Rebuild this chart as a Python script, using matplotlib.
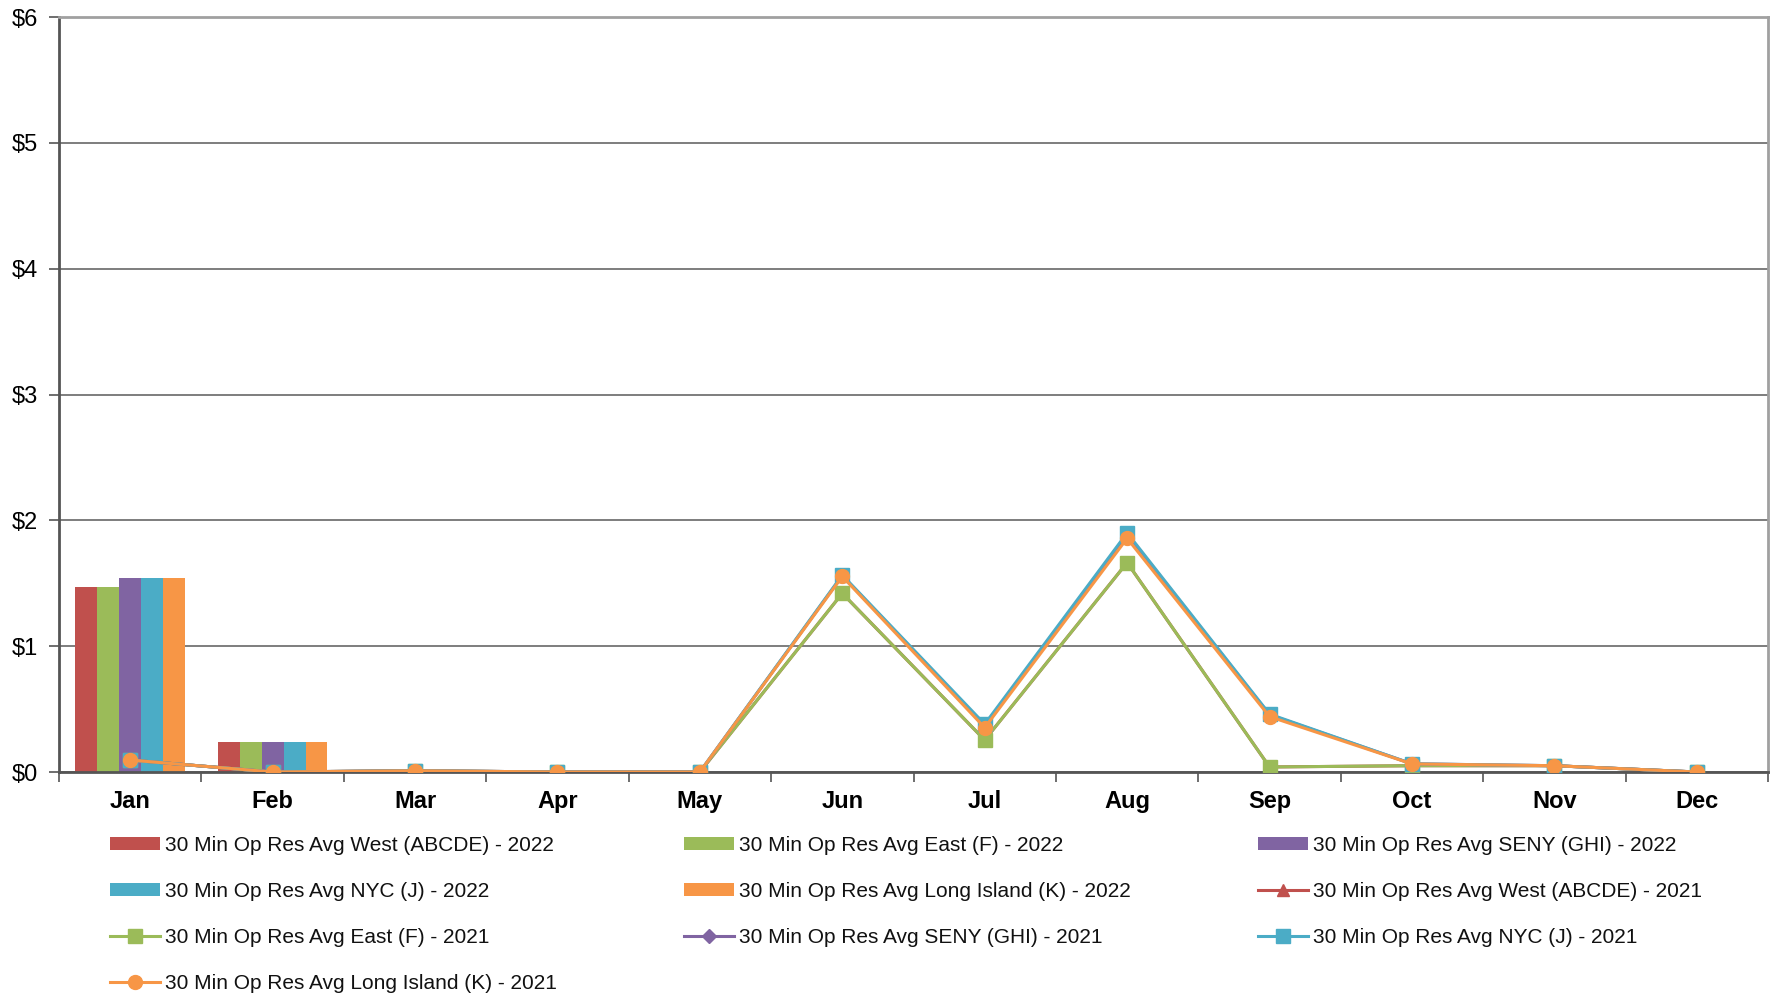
import matplotlib
matplotlib.use("Agg")
import matplotlib.pyplot as plt
import numpy as np

plt.rcParams['font.family'] = ['Liberation Sans', 'DejaVu Sans']

months = ["Jan", "Feb", "Mar", "Apr", "May", "Jun", "Jul", "Aug", "Sep", "Oct", "Nov", "Dec"]
nan = np.nan

# 2022 monthly averages ($/MWh) - bars
west_2022 = [1.47, 0.236, nan, nan, nan, nan, nan, nan, nan, nan, nan, nan]
east_2022 = [1.47, 0.236, nan, nan, nan, nan, nan, nan, nan, nan, nan, nan]
seny_2022 = [1.545, 0.236, nan, nan, nan, nan, nan, nan, nan, nan, nan, nan]
nyc_2022 = [1.545, 0.236, nan, nan, nan, nan, nan, nan, nan, nan, nan, nan]
li_2022 = [1.545, 0.236, nan, nan, nan, nan, nan, nan, nan, nan, nan, nan]

# 2021 monthly averages - lines
west_2021 = [0.095, 0.0, 0.01, 0.0, 0.0, 1.42, 0.254, 1.664, 0.04, 0.05, 0.05, 0.0]
east_2021 = [0.095, 0.0, 0.01, 0.0, 0.0, 1.42, 0.254, 1.664, 0.04, 0.05, 0.05, 0.0]
seny_2021 = [0.095, 0.0, 0.01, 0.0, 0.0, 1.56, 0.37, 1.89, 0.455, 0.065, 0.05, 0.0]
nyc_2021 = [0.095, 0.0, 0.01, 0.0, 0.0, 1.565, 0.38, 1.90, 0.46, 0.065, 0.05, 0.0]
li_2021 = [0.095, 0.0, 0.01, 0.0, 0.0, 1.554, 0.352, 1.857, 0.44, 0.064, 0.05, 0.0]

colors = ["#C0504D", "#9BBB59", "#8064A2", "#4BACC6", "#F79646"]
zones = ["West (ABCDE)", "East (F)", "SENY (GHI)", "NYC (J)", "Long Island (K)"]
bars_2022 = [west_2022, east_2022, seny_2022, nyc_2022, li_2022]
lines_2021 = [west_2021, east_2021, seny_2021, nyc_2021, li_2021]
markers = ["^", "s", "D", "s", "o"]
msizes = [9, 10, 7, 10, 10]

fig = plt.figure(figsize=(17.76, 9.97), dpi=100)
ax = fig.add_axes([59 / 1776, 1 - 772 / 997, (1768 - 59) / 1776, (772 - 17) / 997])

x = np.arange(len(months))
w = 0.154
handles = {}
for i, (vals, c, z) in enumerate(zip(bars_2022, colors, zones)):
    b = ax.bar(x + (i - 2) * w, vals, width=w, color=c, edgecolor="none", zorder=2,
               label=f"30 Min Op Res Avg {z} - 2022")
    handles[f"b{i}"] = b
for i, (vals, c, z) in enumerate(zip(lines_2021, colors, zones)):
    l, = ax.plot(x, vals, color=c, lw=2.2, marker=markers[i], ms=msizes[i],
                 markeredgecolor=c, zorder=3 + i, label=f"30 Min Op Res Avg {z} - 2021")
    handles[f"l{i}"] = l

ax.set_xlim(-0.5, 11.5)
ax.set_ylim(0, 6)
ax.set_yticks(range(7))
ax.set_yticklabels([f"${v}" for v in range(7)], fontsize=17)
ax.yaxis.grid(True, color="#5a5a5a", lw=1.1, zorder=0)
ax.set_axisbelow(True)
ax.tick_params(axis="y", length=7, width=1.2, color="#555555", pad=8)

ax.set_xticks(x)
ax.set_xticklabels(months, fontsize=17, fontweight="bold")
ax.set_xticks(np.arange(-0.5, 12, 1), minor=True)
ax.tick_params(axis="x", which="major", length=0, pad=13)
ax.tick_params(axis="x", which="minor", length=7, width=1.2, color="#555555")

ax.spines["left"].set_color("#555555")
ax.spines["left"].set_linewidth(2)
ax.spines["bottom"].set_color("#555555")
ax.spines["bottom"].set_linewidth(2)
ax.spines["top"].set_color("#a0a0a0")
ax.spines["top"].set_linewidth(2)
ax.spines["right"].set_color("#a0a0a0")
ax.spines["right"].set_linewidth(2)

# legend laid out row by row, three columns
cols = [["b0", "b3", "l1", "l4"], ["b1", "b4", "l2"], ["b2", "l0", "l3"]]
col_x = [110, 684, 1258]
for keys, cx in zip(cols, col_x):
    hs = [handles[k] for k in keys]
    leg = fig.legend(hs, [h.get_label() for h in hs], loc="upper left",
                     bbox_to_anchor=(cx / 1776, 1 - 836 / 997), frameon=False,
                     fontsize=15, handlelength=2.4, handleheight=0.55, handletextpad=0.25,
                     labelspacing=1.3, borderpad=0, borderaxespad=0, numpoints=1)
    for t in leg.get_texts():
        t.set_color("#111111")

fig.savefig("out.png", dpi=100)
